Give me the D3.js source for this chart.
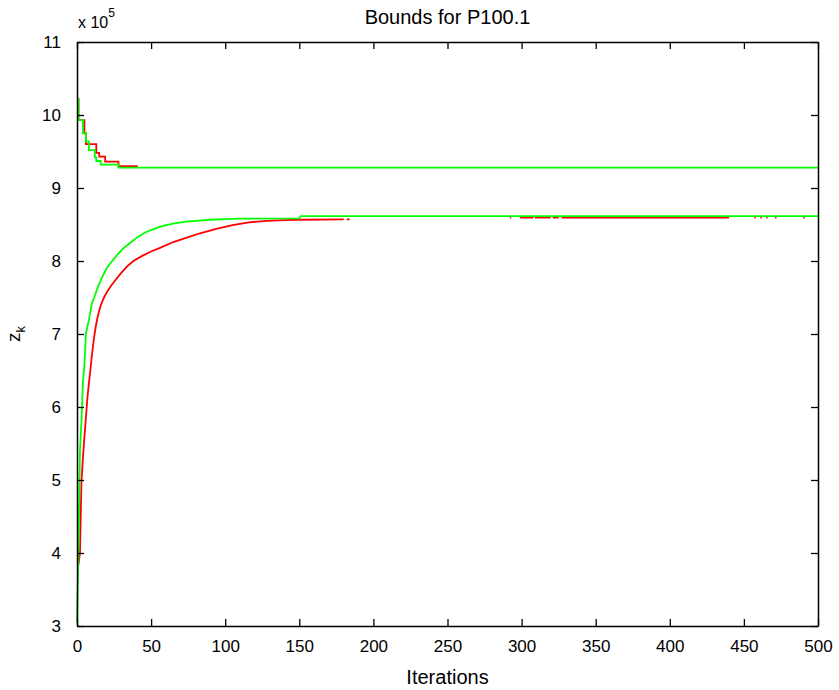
<!DOCTYPE html>
<html>
<head>
<meta charset="utf-8">
<script src="https://cdn.jsdelivr.net/npm/d3@7"></script>
<style>
  body { margin: 0; background: #fff; }
  text { font-family: "Liberation Sans", Arial, sans-serif; fill: #000; }
</style>
</head>
<body>
<div id="chart"></div>
<script>
const FRAME_WIDTH = 839;
const FRAME_HEIGHT = 690;
const MARGINS = {left: 77, right: 21, top: 42, bottom: 64};
const VIS_WIDTH = FRAME_WIDTH - MARGINS.left - MARGINS.right;
const VIS_HEIGHT = FRAME_HEIGHT - MARGINS.top - MARGINS.bottom;

// tick labels
const X_TICKS = [0, 50, 100, 150, 200, 250, 300, 350, 400, 450, 500];
const Y_TICKS = [3, 4, 5, 6, 7, 8, 9, 10, 11];

// upper bounds (x 10^5)
const greenUpperIter = [0, 1, 4, 6, 8, 12, 13, 16, 28, 500];
const greenUpperVal = [10.22, 9.93, 9.75, 9.64, 9.52, 9.42, 9.37, 9.32, 9.28, 9.28];
const redUpperIter = [0, 1, 5, 6, 13, 15, 19, 28, 41];
const redUpperVal = [10.22, 9.93, 9.75, 9.6, 9.48, 9.43, 9.36, 9.30, 9.30];

// lower bounds (x 10^5)
const greenLowerIter = [0, 1, 2, 3, 4, 5, 6, 7, 8, 9, 10, 12, 14, 17, 20, 23, 27, 31, 36, 41, 46, 52, 58, 64, 72, 80, 90, 100, 110, 150, 151, 500];
const greenLowerVal = [3.05, 4.04, 5.4, 5.8, 6.33, 6.58, 7.0, 7.1, 7.19, 7.3, 7.42, 7.52, 7.64, 7.78, 7.9, 7.98, 8.08, 8.17, 8.25, 8.33, 8.39, 8.44, 8.48, 8.51, 8.535, 8.55, 8.565, 8.575, 8.58, 8.585, 8.615, 8.615];
const redLowerIter = [1, 2, 3, 4, 5, 6, 7, 8, 9, 10, 11, 12, 13, 14, 15, 16, 18, 20, 23, 26, 30, 34, 38, 44, 50, 56, 65, 74, 83, 94, 105, 116, 128, 140, 150, 180];
const redLowerVal = [3.84, 4.0, 4.97, 5.3, 5.59, 5.85, 6.12, 6.32, 6.5, 6.7, 6.87, 7.02, 7.14, 7.24, 7.32, 7.39, 7.49, 7.57, 7.66, 7.74, 7.84, 7.93, 8.0, 8.07, 8.13, 8.18, 8.26, 8.32, 8.38, 8.44, 8.49, 8.53, 8.55, 8.56, 8.565, 8.57];
// scattered later pieces of the red lower bound: [from, to, value]
const redLowerPieces = [[182, 184, 8.57], [292, 293, 8.595], [299, 308, 8.595], [309, 319.5, 8.595], [321, 325, 8.595], [327, 440, 8.595], [457, 458, 8.595], [461, 462, 8.595], [465, 466, 8.595], [471, 472, 8.595], [490, 491, 8.595]];

const X_SCALE = d3.scaleLinear().domain([0, 500]).range([0, VIS_WIDTH]);
const Y_SCALE = d3.scaleLinear().domain([3, 11]).range([VIS_HEIGHT, 0]);

const svg = d3.select("#chart")
  .append("svg")
    .attr("width", FRAME_WIDTH)
    .attr("height", FRAME_HEIGHT);

svg.append("rect")
  .attr("width", FRAME_WIDTH)
  .attr("height", FRAME_HEIGHT)
  .attr("fill", "#fff");

const plot = svg.append("g")
  .attr("transform", "translate(" + MARGINS.left + "," + MARGINS.top + ")");

const zip = (xs, ys) => xs.map((x, i) => [x, ys[i]]);

const stepLine = d3.line()
  .x(d => X_SCALE(d[0]))
  .y(d => Y_SCALE(d[1]))
  .curve(d3.curveStepAfter);

const smoothLine = d3.line()
  .x(d => X_SCALE(d[0]))
  .y(d => Y_SCALE(d[1]));

function drawLine(points, color, gen) {
  plot.append("path")
    .datum(points)
    .attr("fill", "none")
    .attr("stroke", color)
    .attr("stroke-width", 1.8)
    .attr("d", gen);
}

// red first, green drawn over it
drawLine(zip(redUpperIter, redUpperVal), "#ff0000", stepLine);
drawLine(zip(redLowerIter, redLowerVal), "#ff0000", smoothLine);
redLowerPieces.forEach(p => drawLine([[p[0], p[2]], [p[1], p[2]]], "#ff0000", smoothLine));
drawLine(zip(greenUpperIter, greenUpperVal), "#00ff00", stepLine);
drawLine(zip(greenLowerIter, greenLowerVal), "#00ff00", smoothLine);

// axes with inward ticks on all four sides
const TICK = 7;
plot.append("g")
  .attr("transform", "translate(0," + VIS_HEIGHT + ")")
  .call(d3.axisBottom(X_SCALE).tickValues(X_TICKS).tickSizeInner(-TICK).tickSizeOuter(0).tickPadding(14));
plot.append("g")
  .call(d3.axisTop(X_SCALE).tickValues(X_TICKS).tickSizeInner(-TICK).tickSizeOuter(0).tickFormat(""));
plot.append("g")
  .call(d3.axisLeft(Y_SCALE).tickValues(Y_TICKS).tickSizeInner(-TICK).tickSizeOuter(0).tickPadding(16));
plot.append("g")
  .attr("transform", "translate(" + VIS_WIDTH + ",0)")
  .call(d3.axisRight(Y_SCALE).tickValues(Y_TICKS).tickSizeInner(-TICK).tickSizeOuter(0).tickFormat(""));

plot.selectAll(".domain").attr("stroke", "#000").attr("stroke-width", 1.5);
plot.selectAll(".tick line").attr("stroke", "#000").attr("stroke-width", 1.3);
plot.selectAll(".tick text").attr("font-size", "17px").attr("font-family", null);

// title
svg.append("text")
  .attr("x", MARGINS.left + VIS_WIDTH / 2)
  .attr("y", 24)
  .attr("text-anchor", "middle")
  .attr("font-size", "20px")
  .text("Bounds for P100.1");

// x axis title
svg.append("text")
  .attr("x", MARGINS.left + VIS_WIDTH / 2)
  .attr("y", 684)
  .attr("text-anchor", "middle")
  .attr("font-size", "20px")
  .text("Iterations");

// y axis title z_k
const ylab = svg.append("text")
  .attr("transform", "translate(20," + (MARGINS.top + VIS_HEIGHT / 2) + ") rotate(-90)")
  .attr("text-anchor", "middle")
  .attr("font-size", "19px");
ylab.append("tspan").text("z");
ylab.append("tspan").attr("dy", 5).attr("font-size", "13px").text("k");

// exponent label
const expo = svg.append("text")
  .attr("x", MARGINS.left + 1)
  .attr("y", 28)
  .attr("font-size", "16px");
expo.append("tspan").text("x 10");
expo.append("tspan").attr("dy", -11).attr("font-size", "12px").text("5");
</script>
</body>
</html>
